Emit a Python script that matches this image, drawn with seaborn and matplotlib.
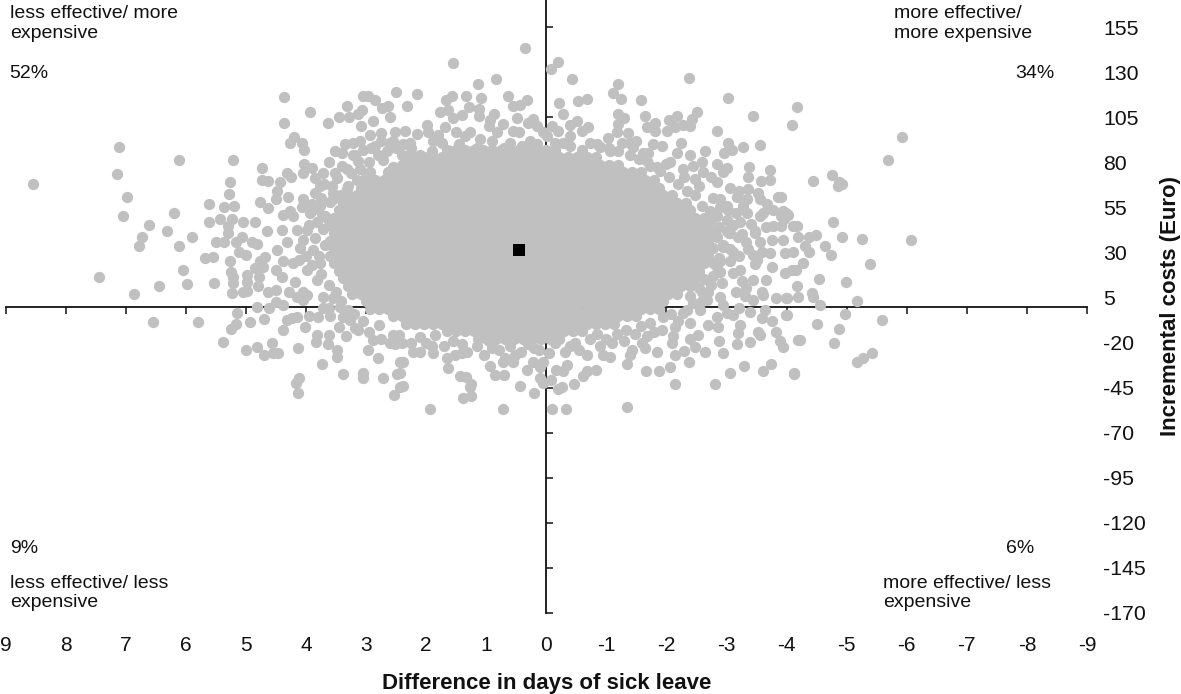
import pandas as pd
import numpy as np
import matplotlib
matplotlib.use('Agg')
import matplotlib.pyplot as plt
import seaborn as sns

#tick labels
day_ticks = [9, 8, 7, 6, 5, 4, 3, 2, 1, 0, -1, -2, -3, -4, -5, -6, -7, -8, -9]
cost_ticks = [155, 130, 105, 80, 55, 30, 5, -20, -45, -70, -95, -120, -145, -170]

#mean of the bootstrap cloud
mean_days = [0.45]
mean_cost = [31.6]

#solid centre of the cloud: single dots can't be read here, estimated per cost level
core_cost = [87.0, 82.8, 78.6, 74.4, 70.2, 66.0, 61.8, 57.6, 53.4, 49.2, 45.0, 40.8, 36.6,
             32.4, 28.2, 24.0, 19.8, 15.6, 11.4, 7.2, 3.0, -1.2, -5.4, -9.6, -13.8, -18.0]
core_days = [
    [1.65,1.50,1.35,1.20,1.05,0.90,0.75,0.60,0.45,0.30,0.15,0.00,-0.15],
    [2.18,2.03,1.88,1.73,1.58,1.43,1.28,1.13,0.98,0.83,0.68,0.53,0.38,0.23,0.08,-0.07,-0.22,-0.37,-0.52,-0.67,-0.82],
    [2.40,2.25,2.10,1.95,1.80,1.65,1.50,1.35,1.20,1.05,0.90,0.75,0.60,0.45,0.30,0.15,0.00,-0.15,-0.30,-0.45,-0.60,-0.75,-0.90,-1.05,-1.20],
    [2.63,2.48,2.33,2.18,2.03,1.88,1.73,1.58,1.43,1.28,1.13,0.98,0.83,0.68,0.53,0.38,0.23,0.08,-0.07,-0.22,-0.37,-0.52,-0.67,-0.82,-0.97,-1.12,-1.27,-1.42,-1.57],
    [3.00,2.85,2.70,2.55,2.40,2.25,2.10,1.95,1.80,1.65,1.50,1.35,1.20,1.05,0.90,0.75,0.60,0.45,0.30,0.15,0.00,-0.15,-0.30,-0.45,-0.60,-0.75,-0.90,-1.05,-1.20,-1.35,-1.50,-1.65,-1.80],
    [3.08,2.93,2.78,2.63,2.48,2.33,2.18,2.03,1.88,1.73,1.58,1.43,1.28,1.13,0.98,0.83,0.68,0.53,0.38,0.23,0.08,-0.07,-0.22,-0.37,-0.52,-0.67,-0.82,-0.97,-1.12,-1.27,-1.42,-1.57,-1.72,-1.87],
    [3.30,3.15,3.00,2.85,2.70,2.55,2.40,2.25,2.10,1.95,1.80,1.65,1.50,1.35,1.20,1.05,0.90,0.75,0.60,0.45,0.30,0.15,0.00,-0.15,-0.30,-0.45,-0.60,-0.75,-0.90,-1.05,-1.20,-1.35,-1.50,-1.65,-1.80,-1.95,-2.10],
    [3.38,3.23,3.08,2.93,2.78,2.63,2.48,2.33,2.18,2.03,1.88,1.73,1.58,1.43,1.28,1.13,0.98,0.83,0.68,0.53,0.38,0.23,0.08,-0.07,-0.22,-0.37,-0.52,-0.67,-0.82,-0.97,-1.12,-1.27,-1.42,-1.57,-1.72,-1.87,-2.02,-2.17,-2.32],
    [3.45,3.30,3.15,3.00,2.85,2.70,2.55,2.40,2.25,2.10,1.95,1.80,1.65,1.50,1.35,1.20,1.05,0.90,0.75,0.60,0.45,0.30,0.15,0.00,-0.15,-0.30,-0.45,-0.60,-0.75,-0.90,-1.05,-1.20,-1.35,-1.50,-1.65,-1.80,-1.95,-2.10,-2.25,-2.40],
    [3.53,3.38,3.23,3.08,2.93,2.78,2.63,2.48,2.33,2.18,2.03,1.88,1.73,1.58,1.43,1.28,1.13,0.98,0.83,0.68,0.53,0.38,0.23,0.08,-0.07,-0.22,-0.37,-0.52,-0.67,-0.82,-0.97,-1.12,-1.27,-1.42,-1.57,-1.72,-1.87,-2.02,-2.17,-2.32,-2.47,-2.62],
    [3.60,3.45,3.30,3.15,3.00,2.85,2.70,2.55,2.40,2.25,2.10,1.95,1.80,1.65,1.50,1.35,1.20,1.05,0.90,0.75,0.60,0.45,0.30,0.15,0.00,-0.15,-0.30,-0.45,-0.60,-0.75,-0.90,-1.05,-1.20,-1.35,-1.50,-1.65,-1.80,-1.95,-2.10,-2.25,-2.40,-2.55,-2.70],
    [3.53,3.38,3.23,3.08,2.93,2.78,2.63,2.48,2.33,2.18,2.03,1.88,1.73,1.58,1.43,1.28,1.13,0.98,0.83,0.68,0.53,0.38,0.23,0.08,-0.07,-0.22,-0.37,-0.52,-0.67,-0.82,-0.97,-1.12,-1.27,-1.42,-1.57,-1.72,-1.87,-2.02,-2.17,-2.32,-2.47,-2.62,-2.77],
    [3.60,3.45,3.30,3.15,3.00,2.85,2.70,2.55,2.40,2.25,2.10,1.95,1.80,1.65,1.50,1.35,1.20,1.05,0.90,0.75,0.60,0.45,0.30,0.15,0.00,-0.15,-0.30,-0.45,-0.60,-0.75,-0.90,-1.05,-1.20,-1.35,-1.50,-1.65,-1.80,-1.95,-2.10,-2.25,-2.40,-2.55,-2.70],
    [3.53,3.38,3.23,3.08,2.93,2.78,2.63,2.48,2.33,2.18,2.03,1.88,1.73,1.58,1.43,1.28,1.13,0.98,0.83,0.68,0.53,0.38,0.23,0.08,-0.07,-0.22,-0.37,-0.52,-0.67,-0.82,-0.97,-1.12,-1.27,-1.42,-1.57,-1.72,-1.87,-2.02,-2.17,-2.32,-2.47,-2.62,-2.77],
    [3.60,3.45,3.30,3.15,3.00,2.85,2.70,2.55,2.40,2.25,2.10,1.95,1.80,1.65,1.50,1.35,1.20,1.05,0.90,0.75,0.60,0.45,0.30,0.15,0.00,-0.15,-0.30,-0.45,-0.60,-0.75,-0.90,-1.05,-1.20,-1.35,-1.50,-1.65,-1.80,-1.95,-2.10,-2.25,-2.40,-2.55,-2.70],
    [3.53,3.38,3.23,3.08,2.93,2.78,2.63,2.48,2.33,2.18,2.03,1.88,1.73,1.58,1.43,1.28,1.13,0.98,0.83,0.68,0.53,0.38,0.23,0.08,-0.07,-0.22,-0.37,-0.52,-0.67,-0.82,-0.97,-1.12,-1.27,-1.42,-1.57,-1.72,-1.87,-2.02,-2.17,-2.32,-2.47,-2.62,-2.77],
    [3.45,3.30,3.15,3.00,2.85,2.70,2.55,2.40,2.25,2.10,1.95,1.80,1.65,1.50,1.35,1.20,1.05,0.90,0.75,0.60,0.45,0.30,0.15,0.00,-0.15,-0.30,-0.45,-0.60,-0.75,-0.90,-1.05,-1.20,-1.35,-1.50,-1.65,-1.80,-1.95,-2.10,-2.25,-2.40,-2.55],
    [3.38,3.23,3.08,2.93,2.78,2.63,2.48,2.33,2.18,2.03,1.88,1.73,1.58,1.43,1.28,1.13,0.98,0.83,0.68,0.53,0.38,0.23,0.08,-0.07,-0.22,-0.37,-0.52,-0.67,-0.82,-0.97,-1.12,-1.27,-1.42,-1.57,-1.72,-1.87,-2.02,-2.17,-2.32,-2.47],
    [3.30,3.15,3.00,2.85,2.70,2.55,2.40,2.25,2.10,1.95,1.80,1.65,1.50,1.35,1.20,1.05,0.90,0.75,0.60,0.45,0.30,0.15,0.00,-0.15,-0.30,-0.45,-0.60,-0.75,-0.90,-1.05,-1.20,-1.35,-1.50,-1.65,-1.80,-1.95,-2.10,-2.25,-2.40],
    [3.23,3.08,2.93,2.78,2.63,2.48,2.33,2.18,2.03,1.88,1.73,1.58,1.43,1.28,1.13,0.98,0.83,0.68,0.53,0.38,0.23,0.08,-0.07,-0.22,-0.37,-0.52,-0.67,-0.82,-0.97,-1.12,-1.27,-1.42,-1.57,-1.72,-1.87,-2.02,-2.17],
    [3.00,2.85,2.70,2.55,2.40,2.25,2.10,1.95,1.80,1.65,1.50,1.35,1.20,1.05,0.90,0.75,0.60,0.45,0.30,0.15,0.00,-0.15,-0.30,-0.45,-0.60,-0.75,-0.90,-1.05,-1.20,-1.35,-1.50,-1.65,-1.80,-1.95],
    [2.93,2.78,2.63,2.48,2.33,2.18,2.03,1.88,1.73,1.58,1.43,1.28,1.13,0.98,0.83,0.68,0.53,0.38,0.23,0.08,-0.07,-0.22,-0.37,-0.52,-0.67,-0.82,-0.97,-1.12,-1.27,-1.42,-1.57,-1.72,-1.87],
    [2.55,2.40,2.25,2.10,1.95,1.80,1.65,1.50,1.35,1.20,1.05,0.90,0.75,0.60,0.45,0.30,0.15,0.00,-0.15,-0.30,-0.45,-0.60,-0.75,-0.90,-1.05,-1.20,-1.35,-1.50],
    [2.33,2.18,2.03,1.88,1.73,1.58,1.43,1.28,1.13,0.98,0.83,0.68,0.53,0.38,0.23,0.08,-0.07,-0.22,-0.37,-0.52,-0.67,-0.82,-0.97,-1.12],
    [1.65,1.50,1.35,1.20,1.05,0.90,0.75,0.60,0.45,0.30,0.15,0.00,-0.15,-0.30,-0.45,-0.60],
    [1.13,0.98,0.83,0.68,0.53,0.38,0.23,0.08,-0.07,-0.22],
]

#crowded band just outside the solid centre, dots overlap so these are estimates too
ring_days = [3.40,3.25,3.48,3.30,3.55,3.42,3.10,2.95,2.80,3.00,2.65,2.50,2.40,3.18,2.92,2.75,2.55,2.38,3.35,3.10,3.62,3.70,3.60,3.75,3.68,3.80,3.90,3.72,3.85,3.95,4.05,3.78,3.90,4.00,3.75,3.68,4.12,3.62,3.50,3.42,3.62,3.30,3.20,3.05,3.18,2.95,2.78,2.75,2.60,2.45,2.25,2.10,1.90,1.85,1.55,
    1.40,1.15,0.95,0.78,0.60,0.42,0.30,0.12,-0.05,-0.15,-0.32,-0.48,-0.55,-0.72,-0.85,-1.00,-1.18,-1.32,-1.48,-1.58,-1.72,-1.80,-1.95,-2.08,-2.20,-2.35,-2.45,-2.60,-2.40,-2.55,-2.70,-2.62,-2.78,-2.90,-2.88,-2.95,-3.05,-3.00,-2.88,-3.10,-2.85,-2.72,-2.60,-2.78,-2.48,-2.35,-2.55,-2.20,-2.05,-2.30,-1.90,-1.72,-2.00,-1.55,-1.40,-1.20,-1.70,-1.05,-0.85,-0.60,-0.40,-1.50,-2.40,-2.60,-2.85,-3.05,-3.20,-2.65,-3.00,-3.15,-3.28,-3.25,-3.40,-3.55,-3.65,-3.35,-3.20,-3.50,-3.25,-3.15,-3.30,-3.20,-2.95,
    0.15,0.40,0.70,0.90,1.15,1.45,1.90,2.10,2.25,0.05,-0.10,0.15,0.45,0.95,1.50,1.80]
ring_cost = [78,74,71,67,63,62,76,80,84,72,86,88,84,84,88,92,92,90,90,92,80,68,58,60,50,54,57,43,38,45,37,28,23,28,18,34,26,12,8,3,-1,-2,-4,-8,-12,-14,-10,-18,-20,-16,-20,-17,-22,-16,-19,
    -26,-22,-19,-24,-22,-25,-21,-24,-26,-20,-25,-20,-24,-18,-15,-18,-15,-13,-15,-11,-9,-14,-6,-4,-8,-2,2,3,6,10,8,15,17,19,27,34,32,42,44,45,50,53,56,60,62,64,67,68,72,72,75,78,79,82,84,86,85,88,90,87,89,92,84,80,79,66,64,86,56,52,56,40,46,50,44,32,28,26,14,8,6,-1,1,
    90,89,88,92,88,90,86,84,88,97,100,100,97,100,97,95]

#loose dots around the centre, read one by one
upper_left_days = [8.54,7.11,7.14,6.98,7.04,6.61,6.20,6.31,6.11,5.21,6.73,5.90,4.37,4.37,3.93,3.63,3.45,3.32,3.28,3.13,3.07,3.05,2.97,2.85,2.73,2.63,2.60,2.50,
    3.08,2.88,2.93,2.75,3.22,4.20,4.26,4.07,4.03,3.52,3.40,3.22,3.13,4.03,3.90,4.05,4.73,4.32,4.25,3.85,3.72,3.52,3.32,4.73,4.63,4.43,5.26,5.28,4.48,4.50,4.30,4.76,4.63,
    5.61,5.36,5.20,5.61,5.43,5.23,5.05,4.85,5.30,5.30,5.06,4.65,4.38,4.05,4.26,4.07,3.85,3.77,3.57,3.93,3.73,4.40,4.15,
    6.78,6.11,5.50,5.36,5.16,4.90,4.81,5.12,5.00,5.68,5.55,5.26,4.76,4.68,5.25,5.21,4.85,4.71,6.04,5.98,5.53,5.21,4.98,4.98,4.78,4.80,7.44,6.45,6.86,5.23,5.05,4.98,4.63,4.50,4.28,4.05,4.50,4.40,4.18,4.81,4.50,4.38,4.15,4.05,
    2.60,2.85,2.71,2.52,3.05,2.93,2.55,3.15,3.32,3.55,3.32,3.77,3.63,3.82,3.98,3.43,4.21,4.48,4.32,4.10,4.38,4.21,3.98,3.77,3.88,3.82,3.98,3.72,3.55]
upper_left_cost = [67.7,88.2,73.6,61,50.3,45.3,52,42,81,81.5,38.8,38.8,116,102,107.7,102,105,111,105,106.6,108.8,116.5,117,114.3,110,111,105,118.7,
    100,102.7,95,96,90.5,94,90.5,90.5,87,86,85.4,84.3,80.5,79.3,77,73.8,77,74.3,72,71,73.8,73.8,76,70,69.4,68.8,68.8,62.6,63.8,59.4,60.5,57.7,54.4,
    56.6,55,56,46.6,48.8,48.8,47,46.6,44.4,41,38.8,42,51,59.4,53,55,63,66.6,66.6,52,50,42.7,42.7,
    33.3,33.3,36,35.5,36,35.5,34.4,30.5,28.3,27,27.7,25,25,27.7,19.4,16.6,21.6,22,20,12.7,13.3,13.3,17.7,13.8,16.6,11.6,16.6,11.6,7.2,7.7,8.3,8.8,8.3,9.4,8.3,8.3,20.5,16.6,13.8,0,2.7,1,5.5,3.8,
    90.9,88.8,81.5,96.6,87,74.4,77.6,70.4,64.9,59.4,55.5,55.5,48.3,46.6,42.7,42.7,50,31.6,35.5,32.7,25,24.4,20.5,24.4,31.6,14.9,6.6,5.5,4.9]

lower_left_days = [4.61,5.15,5.16,5.25,4.93,4.70,4.32,4.23,4.15,4.38,4.02,6.55,5.80,5.38,5.00,4.81,4.56,4.70,4.55,4.46,4.13,3.95,3.80,3.60,3.38,3.45,3.82,3.83,3.62,3.63,3.48,3.48,3.33,3.73,3.38,3.05,3.05,2.72,2.48,
    4.11,4.16,4.13,2.54,2.43,2.97,2.80,2.52,2.43,3.13,2.88,1.94,0.72,1.39,1.25,1.27,1.25,1.44,1.34,1.64,2.39,2.39,2.43,0.94,0.85,0.70,0.44,0.20,0.05,0.10,0.32,0.10,
    2.22,2.10,1.89,1.66,1.52,1.32,1.04,0.69,0.55,0.52,0.72,0.22,0.05,3.43,3.72,3.27,2.40,2.00,1.40,1.70,0.90,0.20,2.55]
lower_left_cost = [-0.6,-3.4,-9.5,-12.3,-8.4,-6.7,-7.3,-6.2,-5.6,-12.8,-11.2,-8.4,-8.4,-19.5,-24,-22.3,-20,-26.7,-26,-26,-22.8,-5,-5.6,-5,-5.6,-11.2,-15.6,-19.5,-16,-20.6,-24,-27.8,-16.6,-31.7,-37.3,-36.8,-39.5,-39.5,-37.3,
    -39.5,-42.3,-47.8,-48.9,-44.5,-24,-28.4,-21,-31,-12.8,-18.4,-56.7,-56.7,-50.6,-49.5,-44.5,-42.8,-38.4,-38.9,-33.9,-43.9,-30.6,-36.8,-32.8,-37.8,-37.8,-43.9,-47.8,-42.3,-39.5,-35,-33.4,
    -25,-25,-26,-28.4,-27,-25,-26.7,-28.4,-31,-27,-30.6,-30.6,-30.6,0,-0.6,-7.3,-20,-20,-21,-22,-23,-23,-16]

upper_right_days = [-0.08,-0.20,-0.43,-2.37,-1.19,-1.11,-1.24,-1.58,-3.02,-3.44,-0.21,-0.28,-0.53,-0.68,-1.19,-1.29,-1.64,-1.19,-2.51,-2.42,-2.17,-2.04,-2.27,-2.39,-1.81,-1.67,-2.01,-2.14,-1.81,-2.24,-2.84,-3.02,-3.27,-3.55,-3.09,-2.96,-2.17,-2.44,
    -3.37,-3.72,-3.36,-3.72,-3.57,-3.00,-2.94,-3.85,-3.36,-3.52,-3.17,-3.34,-3.55,-3.67,-3.77,-3.94,-4.02,-3.34,-3.60,-3.22,-3.47,-3.77,-4.17,-3.05,-3.02,-2.89,-2.84,-2.61,-2.75,-2.47,-2.27,-2.06,-1.85,-1.67,-1.61,-1.44,-1.39,-1.26,-1.36,-1.17,-1.03,-1.78,-1.92,
    -0.69,-0.51,-0.39,-0.59,-0.73,-0.89,-1.06,-0.39,-0.20,-0.01,-0.14,-0.28,
    -4.17,-4.09,-5.92,-5.68,-4.75,-4.44,-4.87,-4.93,-4.85,-4.77,-3.90,-3.99,-3.90,-4.10,-3.95,-3.90,
    -6.07,-5.25,-4.93,-4.49,-4.37,-4.19,-4.64,-4.74,-4.30,-4.37,-5.39,-4.27,-4.15,-4.54,-4.99,-4.17,-4.19,-3.99,-4.42,-4.44,-4.55,-5.18,
    -3.82,-4.00,-3.60,-3.44,-3.59,-3.44,-3.66,-3.97,-4.09,-3.76,-3.47,-3.44,-3.59,-3.72,-3.97,-4.11,-3.94,-3.76,-3.55,-3.33,-3.19,-3.04,-3.47,-2.84,-3.11,-3.22,-3.11,-2.92,-3.33,-2.89,-2.67,-2.44,
    -2.95,-2.90,-3.00,-2.90,-2.75,-2.85,-2.75,-2.60,-3.05]
upper_right_cost = [132,135.4,126,126.5,123.2,118.2,114.9,114.3,115.5,105.4,112.7,107,113.8,114.9,106.6,104.3,105.4,101,107.7,103.8,105.4,103.2,100.4,100,101.6,99.4,97.2,99.4,97.2,90.9,97.2,90.9,88.2,89.4,87,84.9,84.9,78.2,
    77.1,75.5,71.6,69.9,69.4,76.6,74.4,61,64.9,63.2,60.5,59.4,59.4,56.6,53.8,52.7,51,52,52,46.6,41.6,44.4,44.4,41,53.8,59.4,68.8,74.4,72,70.5,76,80,77.6,80.5,85.4,88.2,90.9,90.9,96,96.6,93.2,89.9,88.8,
    99.4,102.7,100.4,97.2,90.9,88.2,86,94.3,97.2,94.3,90.9,90.9,
    110.4,100.4,93.8,81,73.2,69.4,68.8,68.2,67,47,61,52,50,44.4,48.3,44.4,
    37,37.7,38.3,39.9,38.8,38.8,33.3,28.3,33.3,30.5,23.8,24.4,20.5,15.5,13.8,11.6,5.5,4.9,7.7,5.5,1,3.3,
    4.9,4.9,6.6,3.8,8.3,14.9,14.9,18.8,20,22,23.3,28.8,30,29.4,29.4,30,37,37,35.5,36,38.8,41,41,38.3,30,20.5,18.8,13.3,10.5,5.5,3.8,13.3,
    33,25,48,55,48,22,12,8,25]

upper_mid_days = [0.35,1.55,0.84,1.14,2.15,2.32,1.57,1.67,1.34,1.09,0.64,0.55,0.44,0.32,1.77,1.64,1.29,1.12,1.12,1.40,1.55,0.87,0.94,0.49,0.22,0.30,0.27,0.55,0.72,0.82,0.60,1.27,1.35,1.10,1.69,1.98,2.35,2.15,1.97,2.27,1.89,1.74,2.32,1.60]
upper_mid_cost = [143.2,134.9,126,123.2,117.7,111,116.5,114.3,117,115.5,116.5,111,111.5,114.3,107.7,108.8,110.4,109.3,105.4,106,104.3,106.6,103.2,104.3,103.8,101.6,91.6,97.2,101,96.6,90.9,96.6,94.3,92.7,99.4,100.4,97.2,95.4,96.6,90.9,91.6,90.9,83.2,86]

lower_right_days = [-0.09,-0.33,-1.34,-0.08,-0.20,-0.26,-0.47,-0.17,-0.28,-0.34,-0.61,-0.67,-0.82,-1.34,-1.66,-1.87,-2.06,-2.37,-2.14,-2.81,-3.05,-3.29,-3.60,-3.74,-4.12,-0.67,-0.94,-1.06,-1.39,-1.42,-1.64,-1.85,-2.14,-2.30,-2.47,-2.64,-2.94,-2.87,-3.17,-3.39,-3.55,-3.52,-3.89,-3.94,-4.19,-3.82,-3.22,-3.19,-2.39,-2.52,-2.11,-2.09,-1.67,-1.92,-2.14,-2.39,-2.69,-2.86,-3.11,-3.39,-3.59,-3.76,-4.00,-3.64,-2.56,-2.27,-2.84,-3.00,
    -4.97,-3.99,-5.58,-4.50,-4.87,-4.22,-4.79,-5.42,-5.27,-5.17,-4.12,-1.10,-1.30,-1.60,-0.40,-0.90]
lower_right_cost = [-56.7,-56.7,-55.6,-41,-45.6,-44.5,-42.8,-35,-36,-32.3,-38.4,-36,-35,-31.7,-36,-35.6,-33.4,-31,-42.8,-42.8,-36.8,-32.8,-35.6,-31.7,-36.8,-27,-26.7,-27.8,-26.7,-24,-22.8,-25,-26.7,-24.5,-22.3,-25,-25.6,-18.9,-20.6,-19.5,-16,-13.9,-18.9,-22.3,-18.4,-13.9,-10,-14.5,-17.8,-16,-16.6,-20,-16.6,-12.8,-11.2,-9.4,-10,-11.2,-4.5,-2.8,-6.2,-7.8,-4.5,-1.7,-1.7,-3.4,-5.6,-3.4,
    -3.9,-4.5,-7.3,-9.5,-12.3,-18.4,-20,-25.6,-28.4,-31,-37.3,-20,-19,-20,-22,-22]

#flatten the centre rows and join them with the loose dots
core_x = []
core_y = []
for level, row in zip(core_cost, core_days):
    core_x = core_x + row
    core_y = core_y + [level] * len(row)

cloud = pd.DataFrame({
    'days': core_x + ring_days + upper_left_days + lower_left_days + upper_right_days + upper_mid_days + lower_right_days,
    'cost': core_y + ring_cost + upper_left_cost + lower_left_cost + upper_right_cost + upper_mid_cost + lower_right_cost,
})
mean_df = pd.DataFrame({'days': mean_days, 'cost': mean_cost})

sns.set_style('white')
plt.rcParams['font.family'] = ['Liberation Sans', 'DejaVu Sans']

fig = plt.figure(figsize=(11.81, 6.94), dpi=100)
ax = fig.add_axes([5.5 / 1181, 1 - 613 / 694, (1087 - 5.5) / 1181, 613 / 694])

sns.scatterplot(data=cloud, x='days', y='cost', ax=ax, color='#C0C0C0', s=66, linewidth=0, legend=False, clip_on=False)
sns.scatterplot(data=mean_df, x='days', y='cost', ax=ax, color='black', marker='s', s=70, linewidth=0, legend=False, zorder=3)

ax.set_xlim(9, -9)
ax.set_ylim(-170, 170)
ax.set_xlabel('')
ax.set_ylabel('')

#axes cross in the middle, dots sit on top of them
for side in ['top', 'right']:
    ax.spines[side].set_visible(False)
for side in ['left', 'bottom']:
    ax.spines[side].set_position(('data', 0))
    ax.spines[side].set_color('#111111')
    ax.spines[side].set_linewidth(1.3)
    ax.spines[side].set_zorder(0.5)
ax.set_axisbelow(True)
ax.set_xticks(day_ticks)
ax.set_yticks(cost_ticks)
ax.tick_params(axis='x', direction='out', length=5, width=1.1, color='#111111', bottom=True, labelbottom=False)
ax.tick_params(axis='y', direction='in', length=5, width=1.1, color='#111111', left=True, labelleft=False)
ax.patch.set_alpha(0)

#tick labels live at the edges, not on the crossing axes
xsec = ax.secondary_xaxis('bottom')
xsec.set_xticks(day_ticks)
xsec.set_xticklabels([str(d) for d in day_ticks], fontsize=15, color='#111111')
xsec.tick_params(length=0, pad=16.5)
xsec.spines['bottom'].set_visible(False)
xsec.set_xlabel('Difference in days of sick leave', fontsize=16, fontweight='bold', labelpad=13, color='#111111')

ysec = ax.secondary_yaxis('right')
ysec.set_yticks(cost_ticks)
ysec.set_yticklabels([str(c) for c in cost_ticks], fontsize=15.3, color='#111111')
ysec.tick_params(length=0, pad=11.5)
ysec.spines['right'].set_visible(False)
ysec.set_ylabel('Incremental costs (Euro)', fontsize=16, fontweight='bold', labelpad=10.5, color='#111111')

#quadrant notes
note = dict(fontsize=14, color='#111111', va='center', ha='left', linespacing=1.19)
ax.text(8.93, 157.0, 'less effective/ more\nexpensive', **note)
ax.text(8.93, 129.3, '52%', **note)
ax.text(-5.79, 157.0, 'more effective/\nmore expensive', **note)
ax.text(-7.81, 129.3, '34%', **note)
ax.text(8.93, -134.4, '9%', **note)
ax.text(8.93, -159.0, 'less effective/ less\nexpensive', **note)
ax.text(-7.65, -134.4, '6%', **note)
ax.text(-5.60, -159.0, 'more effective/ less\nexpensive', **note)

fig.savefig('out.png', dpi=100)
